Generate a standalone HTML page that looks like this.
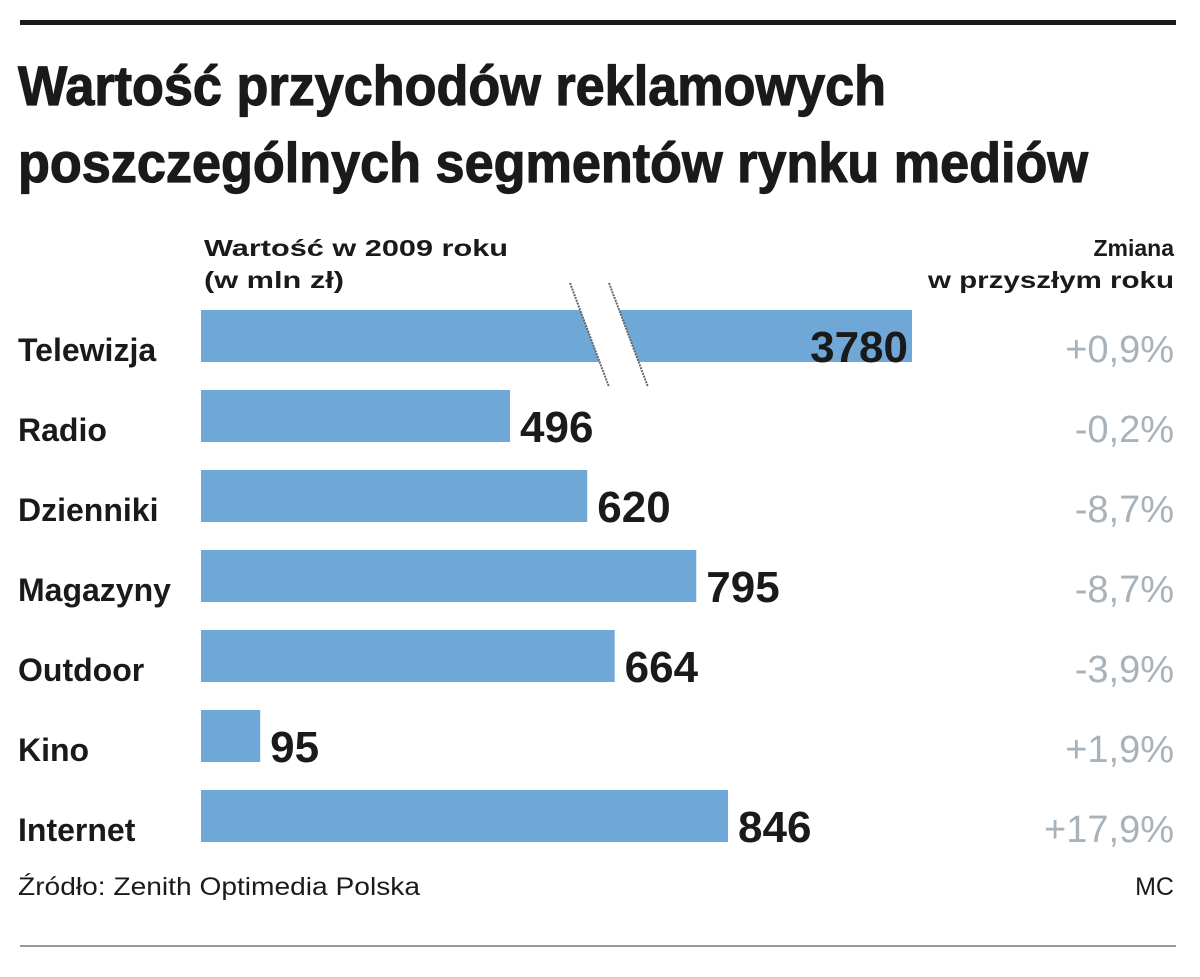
<!DOCTYPE html>
<html><head><meta charset="utf-8"><style>
body{margin:0;background:#fff;width:1200px;height:977px;overflow:hidden;font-family:"Liberation Sans",sans-serif}
svg{display:block}
</style></head><body>
<svg id="c" width="1200" height="977">
<rect x="20" y="20" width="1156" height="5" fill="#1a1a1a"/>
<g>
<text x="18" y="105" font-size="56" font-weight="bold" fill="#1a1a1a" textLength="868" lengthAdjust="spacingAndGlyphs" stroke="#1a1a1a" stroke-width="1.2">Wartość przychodów reklamowych</text>
<text x="18" y="182" font-size="56" font-weight="bold" fill="#1a1a1a" textLength="1070" lengthAdjust="spacingAndGlyphs" stroke="#1a1a1a" stroke-width="1.2">poszczególnych segmentów rynku mediów</text>
</g>
<g font-size="23" font-weight="bold" fill="#1a1a1a">
<text x="204" y="256" textLength="304" lengthAdjust="spacingAndGlyphs">Wartość w 2009 roku</text>
<text x="204" y="288" textLength="140" lengthAdjust="spacingAndGlyphs">(w mln zł)</text>
<text x="1174" y="256" text-anchor="end">Zmiana</text>
<text x="1174" y="288" text-anchor="end" textLength="246" lengthAdjust="spacingAndGlyphs">w przyszłym roku</text>
</g>
<g id="bars"></g>
<text x="18" y="895" font-size="25" fill="#1a1a1a" textLength="402" lengthAdjust="spacingAndGlyphs">Źródło: Zenith Optimedia Polska</text>
<text x="1174" y="895" font-size="25" fill="#1a1a1a" text-anchor="end">MC</text>
<rect x="20" y="945" width="1156" height="2" fill="#999"/>
</svg>
<script>
const categories=["Telewizja","Radio","Dzienniki","Magazyny","Outdoor","Kino","Internet"];
const values=[3780,496,620,795,664,95,846];
const changes=["+0,9%","-0,2%","-8,7%","-8,7%","-3,9%","+1,9%","+17,9%"];
const x0=201,k=309/496,breakAt=1000,brokenW=711;
function xw(v){return v>breakAt?brokenW:v*k;}
const ns="http://www.w3.org/2000/svg",g=document.getElementById('bars');
function mk(t,a){const e=document.createElementNS(ns,t);for(const n in a)e.setAttribute(n,a[n]);g.appendChild(e);return e;}
categories.forEach((c,i)=>{
 const y=310+i*80,w=xw(values[i]);
 const b=mk('rect',{x:x0,y:y,width:w,height:52,fill:'#6fa8d6'});
 
 
 const l=mk('text',{x:18,y:y+51,'font-size':32,'font-weight':'bold',fill:'#1a1a1a'});l.textContent=c;
 
 
 const broken=values[i]>breakAt;
 const v=mk('text',{x:broken?x0+w-4:x0+w+10,y:y+52,'font-size':44,'font-weight':'bold',fill:'#1a1a1a','text-anchor':broken?'end':'start'});v.textContent=values[i];
 
 
 const ch=mk('text',{x:1174,y:y+52,'font-size':38,fill:'#a8b2ba','text-anchor':'end'});ch.textContent=changes[i];
 
 
 if(broken){
  const gap=mk('polygon',{points:`${570+(y-283)*39/104},${y} ${609+(y-283)*39/104},${y} ${609+(y+52-283)*39/104},${y+52} ${570+(y+52-283)*39/104},${y+52}`,fill:'#fff'});
  
  
  [570,609].forEach(sx=>{const s=mk('line',{x1:sx,y1:283,x2:sx+39,y2:387,stroke:'#666','stroke-width':2,'stroke-dasharray':'2 1'});
  
  });
 }
});
</script>
</body></html>
